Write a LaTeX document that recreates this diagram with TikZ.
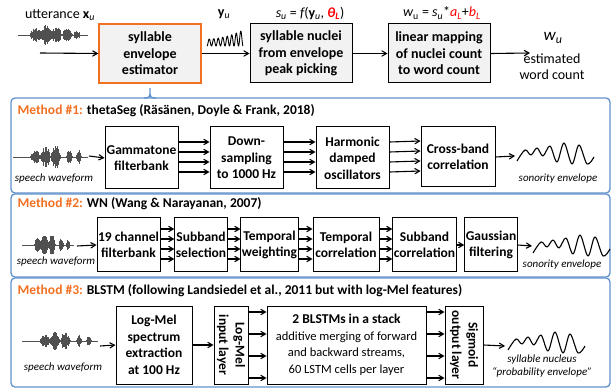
\documentclass[tikz,border=0pt]{standalone}
\usepackage{fontspec}
\setmainfont{Carlito}
\usetikzlibrary{arrows,positioning}
\definecolor{morange}{RGB}{242,112,34}
\definecolor{fblue}{RGB}{98,146,204}
\definecolor{boxgray}{RGB}{242,242,242}
\definecolor{wavegray}{RGB}{80,80,80}
\pgfmathsetseed{7}
\tikzset{declare function={bp(\t,\c,\w)=max(0,1-((\t-\c)/\w)*((\t-\c)/\w));}}
\newcommand{\burstsA}{0.65*bp(\t,0.3,0.07)+bp(\t,0.43,0.07)+0.95*bp(\t,0.57,0.07)+0.75*bp(\t,0.75,0.04)+0.6*bp(\t,0.88,0.035)}
\newcommand{\burstsB}{0.7*bp(\t,0.25,0.09)+bp(\t,0.4,0.09)+0.85*bp(\t,0.55,0.08)+0.75*bp(\t,0.7,0.08)+0.45*bp(\t,0.84,0.05)}

% gray speech signal: x0, y0, width, half height, envelope
\newcommand{\speechwave}[5]{%
  \draw[-,wavegray,line width=0.3pt] ({#1},{#2}) -- ({#1+#3},{#2});
  \foreach \i in {0,...,140}{
    \pgfmathsetmacro{\t}{\i/140}
    \pgfmathsetmacro{\env}{#5}
    \pgfmathsetmacro{\h}{#4*\env*(0.4+0.6*rnd)}
    \draw[-,wavegray,line width=0.55pt] ({#1+\t*#3},{#2-\h}) -- ({#1+\t*#3},{#2+\h});
  }}
% black envelope curve: x0, y0
\newcommand{\sonenv}[2]{%
  \draw[-,line width=1.1pt,line join=round,shift={(#1,#2)}] plot[smooth,tension=0.55]
    coordinates {(0,-1) (8,-12) (14,-7) (20,-14) (26,-6) (33,-16) (40,0) (47,-19) (55,2) (62,-17) (70,2) (77,-5)};}

\begin{document}
\begin{tikzpicture}[->,>=angle 60,line width=1.1pt,x=1pt,y=-1pt]
  \tikzstyle{topbox}=[draw=black,fill=boxgray,line width=1pt,minimum width=102pt,minimum height=59pt,
                      inner sep=1pt,align=center,font=\fontsize{14}{16.5}\selectfont\bfseries]
  \tikzstyle{stage}=[draw=black,fill=white,line width=1pt,inner sep=1pt,align=center,
                     font=\fontsize{13.5}{16.5}\selectfont\bfseries]
  \tikzstyle{panel}=[-,draw=fblue,line width=1.3pt,rounded corners=4pt]
  \tikzstyle{methodtitle}=[anchor=west,inner sep=0pt,font=\fontsize{13.5}{16}\selectfont\bfseries]
  \tikzstyle{wavelabel}=[inner sep=0pt,align=center,font=\fontsize{11}{13}\selectfont\itshape]
  \tikzstyle{toplabel}=[inner sep=0pt,align=center,font=\fontsize{14}{16}\selectfont]

  \useasboundingbox (0,0) rectangle (616,390);

  % top row
  \node[topbox,draw=morange,line width=1.4pt] (est) at (150,53.5) {syllable\\envelope\\estimator};
  \node[topbox] (peak) at (301,53.5) {syllable nuclei\\from envelope\\peak picking};
  \node[topbox] (lin)  at (439,53.5) {linear mapping\\of nuclei count\\to word count};
  \coordinate (uin) at (40,53);
  \coordinate (wout) at (530,53);

  \node[toplabel] (xlab) at (60,15) {utterance \textbf{x}\textsubscript{\itshape u}};
  \node[toplabel] (ylab) at (224,14) {\textbf{y}\textsubscript{\itshape u}};
  \node[toplabel] (flab) at (310,13) {{\itshape s}\textsubscript{\itshape u} = {\itshape f}(\textbf{y}\textsubscript{\itshape u}, {\color{red}\bfseries\itshape θ\textsubscript{L}})};
  \node[toplabel] (mlab) at (442,13) {{\itshape w}\textsubscript{u} = {\itshape s}\textsubscript{\itshape u}*{\color{red}\itshape a\textsubscript{L}}+{\color{red}\itshape b\textsubscript{L}}};
  \node[toplabel,font=\fontsize{17}{18}\selectfont\itshape] (wlab) at (553,38) {w\textsubscript{u}};
  \node[toplabel] (cnt) at (552,67) {estimated\\word count};

  \speechwave{18}{35}{70}{10}{\burstsB}
  \draw[-,line width=0.9pt,line join=round] plot[domain=0:1,samples=240,smooth]
    ({207+36*\x},{46-(0.5-0.5*cos(360*8*\x))*(7+9*\x*\x)});

  \draw (uin) -- (est.west);
  \draw (est.east) -- (peak.west);
  \draw (peak.east) -- (lin.west);
  \draw (lin.east) -- (wout);

  % frame of the three methods
  \draw[panel] (11,98) rectangle (610,193);
  \draw[panel] (11,194) rectangle (610,277);
  \draw[panel] (11,278) rectangle (610,387);
  \coordinate (tip) at ([yshift=-2pt]est.south);
  \draw[panel] (144,98) .. controls (150,98) and (150,97) .. (tip) .. controls (150,97) and (150,98) .. (156,98);

  % Method 1
  \node[methodtitle] (t1) at (17,111) {{\color{morange}Method \#1:} thetaSeg (Räsänen, Doyle \& Frank, 2018)};
  \node[stage,minimum width=73pt,minimum height=62pt] (gamma) at (141.5,158) {Gammatone\\filterbank};
  \node[stage,minimum width=73pt,minimum height=62pt] (down)  at (246.5,158) {Down-\\sampling\\to 1000 Hz};
  \node[stage,minimum width=73pt,minimum height=62pt] (osc)   at (352.5,158) {Harmonic\\damped\\oscillators};
  \node[stage,minimum width=74pt,minimum height=60pt] (cross) at (458,157)   {Cross-band\\correlation};
  \coordinate (s1) at (89,156);
  \coordinate (e1) at (515,156);
  \speechwave{13}{157}{75}{12}{\burstsA}
  \sonenv{517}{162}
  \node[wavelabel] (sw1) at (54,179) {speech waveform};
  \node[wavelabel] (se1) at (558,179) {sonority envelope};
  \draw (s1) -- (gamma.west);
  \foreach \d in {16,6,-4,-14}{
    \draw ([yshift=\d pt]gamma.east) -- ([yshift=\d pt]down.west);
    \draw ([yshift=\d pt]down.east) -- ([yshift=\d pt]osc.west);
    \draw ([yshift=\d pt]osc.east) -- ([yshift=\d pt]cross.west);
  }
  \draw (cross.east) -- (e1);

  % Method 2
  \node[methodtitle] (t2) at (17,204) {{\color{morange}Method \#2:} WN (Wang \& Narayanan, 2007)};
  \node[stage,minimum width=63pt,minimum height=54pt] (chan)  at (128.5,245) {19 channel\\filterbank};
  \node[stage,minimum width=52pt,minimum height=54pt] (sel)   at (201,245)   {Subband\\selection};
  \node[stage,minimum width=55pt,minimum height=54pt] (tw)    at (269.5,245) {Temporal\\weighting};
  \node[stage,minimum width=66pt,minimum height=54pt] (tcorr) at (346,245)   {Temporal\\correlation};
  \node[stage,minimum width=61pt,minimum height=54pt] (scorr) at (424.5,245) {Subband\\correlation};
  \node[stage,minimum width=52pt,minimum height=54pt] (gauss) at (491,245)   {Gaussian\\filtering};
  \coordinate (s2) at (77,246);
  \coordinate (e2) at (532,246);
  \speechwave{22}{245}{52}{11}{\burstsA}
  \sonenv{533}{254}
  \node[wavelabel] (sw2) at (56,262) {speech waveform};
  \node[wavelabel] (se2) at (562,265) {sonority envelope};
  \draw (s2) -- (chan.west);
  \foreach \d in {16,6,-4,-14}{
    \draw ([yshift=\d pt]chan.east) -- ([yshift=\d pt]sel.west);
    \draw ([yshift=\d pt]sel.east) -- ([yshift=\d pt]tw.west);
    \draw ([yshift=\d pt]tw.east) -- ([yshift=\d pt]tcorr.west);
    \draw ([yshift=\d pt]tcorr.east) -- ([yshift=\d pt]scorr.west);
  }
  \draw (scorr.east) -- (gauss.west);
  \draw (gauss.east) -- (e2);

  % Method 3
  \node[methodtitle] (t3) at (17,291) {{\color{morange}Method \#3:} BLSTM (following Landsiedel et al., 2011 but with log-Mel features)};
  \node[stage,minimum width=76pt,minimum height=78pt] (spec) at (154,345) {Log-Mel\\spectrum\\extraction\\at 100 Hz};
  \node[stage,rotate=-90,minimum width=78pt,minimum height=34pt] (inl) at (231,345) {Log-Mel\\input layer};
  \node[stage,minimum width=159pt,minimum height=78pt] (blstm) at (346.5,345)
    {2 BLSTMs in a stack\\\mdseries\fontsize{12.5}{15.5}\selectfont additive merging of forward\\\mdseries\fontsize{12.5}{15.5}\selectfont and backward streams,\\\mdseries\fontsize{12.5}{15.5}\selectfont 60 LSTM cells per layer};
  \node[stage,rotate=-90,minimum width=78pt,minimum height=38pt] (outl) at (464,345) {Sigmoid\\output layer};
  \coordinate (s3) at (100,346);
  \coordinate (e3) at (505,346);
  \speechwave{22}{341}{76}{10}{\burstsA}
  \sonenv{508}{351}
  \node[wavelabel] (sw3) at (63,368) {speech waveform};
  \node[wavelabel] (se3) at (542,366) {syllable nucleus\\“probability envelope”};
  \draw (s3) -- (spec.west);
  \draw (spec.east) -- (inl.south);
  \foreach \d in {33,11,-11,-33}{
    \draw ([yshift=\d pt]inl.north) -- ([yshift=\d pt]blstm.west);
    \draw ([yshift=\d pt]blstm.east) -- ([yshift=\d pt]outl.south);
  }
  \draw (outl.north) -- (e3);
\end{tikzpicture}
\end{document}
